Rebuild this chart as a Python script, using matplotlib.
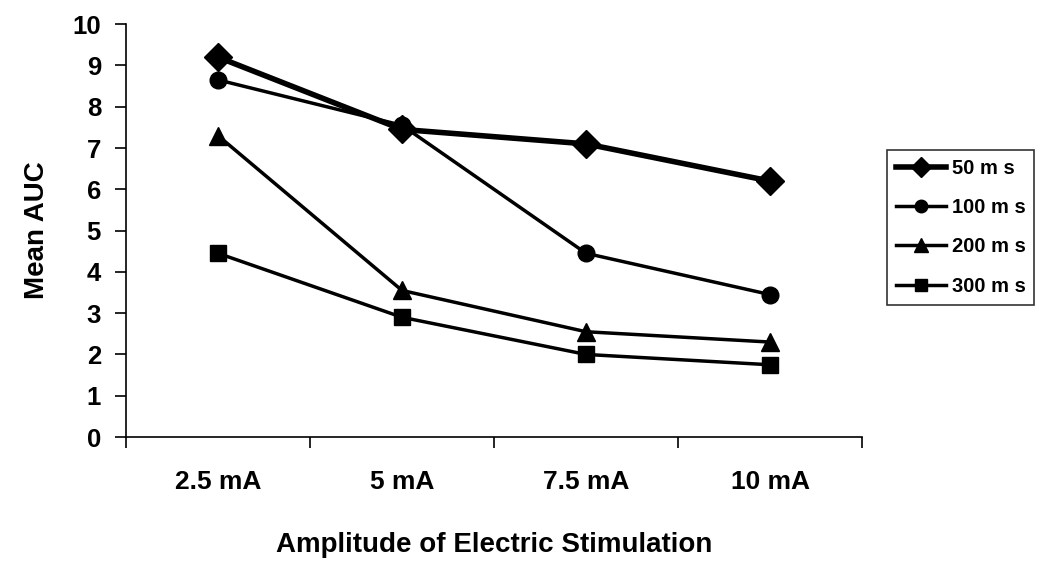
import matplotlib.pyplot as plt
import numpy as np

plt.rcParams['font.family'] = ['Liberation Sans', 'DejaVu Sans']
plt.rcParams['font.weight'] = 'bold'

categories = ["2.5 mA", "5 mA", "7.5 mA", "10 mA"]
auc_50 = [9.2, 7.45, 7.1, 6.2]
auc_100 = [8.65, 7.55, 4.45, 3.45]
auc_200 = [7.3, 3.55, 2.55, 2.3]
auc_300 = [4.45, 2.9, 2.0, 1.75]

series = [
    ("50 ms", auc_50, "D", 14, 4.0),
    ("100 ms", auc_100, "o", 12, 2.5),
    ("200 ms", auc_200, "^", 13, 2.5),
    ("300 ms", auc_300, "s", 12, 2.5),
]

fig = plt.figure(figsize=(10.5, 5.62), dpi=100)
ax = fig.add_axes([0.12, 0.2224, 0.701, 0.7346])

x = np.arange(len(categories))
for name, vals, mk, ms, lw in series:
    ax.plot(x, vals, color="black", marker=mk, markersize=ms, linewidth=lw,
            label=name.replace("ms", "m s"))

ax.set_xlim(-0.5, 3.5)
ax.set_ylim(0, 10)
ax.set_yticks(range(0, 11))

# category ticks sit between the groups, labels centred on the groups
ax.set_xticks(np.arange(-0.5, 4.0, 1.0))
ax.set_xticklabels([])
ax.set_xticks(x, minor=True)
ax.set_xticklabels(categories, minor=True)
ax.tick_params(axis="x", which="minor", length=0, pad=24, labelsize=19)
ax.tick_params(axis="x", which="major", length=8, width=1.2, direction="out")
ax.tick_params(axis="y", length=8, width=1.2, direction="out", labelsize=18.5, pad=10)
for lab in ax.get_xticklabels(minor=True) + ax.get_yticklabels():
    lab.set_fontweight("bold")

ax.spines["top"].set_visible(False)
ax.spines["right"].set_visible(False)
ax.spines["left"].set_linewidth(1.2)
ax.spines["bottom"].set_linewidth(1.2)

ax.set_ylabel("Mean AUC", fontsize=20, fontweight="bold", labelpad=16)
ax.set_xlabel("Amplitude of Electric Stimulation", fontsize=20, fontweight="bold", labelpad=27)

leg = ax.legend(loc="upper left", bbox_to_anchor=(1.034, 0.695), borderaxespad=0,
                frameon=True, fancybox=False, edgecolor="black", fontsize=14.5,
                markerscale=0.75, handlelength=2.5, labelspacing=1.0, borderpad=0.45,
                handletextpad=0.25)
leg.get_frame().set_linewidth(1.2)
for t in leg.get_texts():
    t.set_fontweight("bold")

fig.savefig("out.png", dpi=100)
